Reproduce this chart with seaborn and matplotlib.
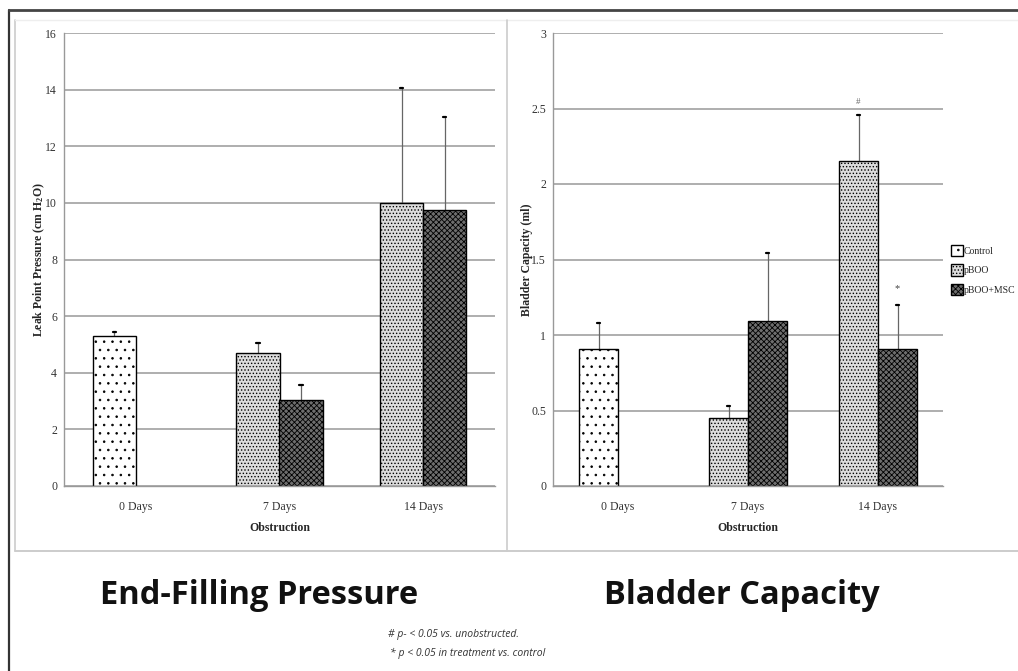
import numpy as np
import pandas as pd
import matplotlib
matplotlib.use("Agg")
import matplotlib.pyplot as plt
import seaborn as sns
from matplotlib.patches import Patch
from matplotlib.lines import Line2D

# data
days = ['0 Days', '7 Days', '14 Days']
groups = ['Control', 'pBOO', 'pBOO+MSC']
bar_day = ['0 Days', '7 Days', '7 Days', '14 Days', '14 Days']
bar_group = ['Control', 'pBOO', 'pBOO+MSC', 'pBOO', 'pBOO+MSC']
pressure_mean = [5.3, 4.7, 3.05, 10.0, 9.75]
pressure_err = [0.15, 0.35, 0.5, 4.05, 3.3]
capacity_mean = [0.91, 0.45, 1.09, 2.15, 0.91]
capacity_err = [0.17, 0.08, 0.45, 0.31, 0.29]
pressure_ticks = [0, 2, 4, 6, 8, 10, 12, 14, 16]
capacity_ticks = [0, 0.5, 1, 1.5, 2, 2.5, 3]
capacity_tick_labels = ['0', '0.5', '1', '1.5', '2', '2.5', '3']

# pattern styles per group
styles = {
    'Control': dict(facecolor='white', hatch='..'),
    'pBOO': dict(facecolor='#dcdcdc', hatch='.....'),
    'pBOO+MSC': dict(facecolor='#6e6e6e', hatch='xxxxxx'),
}
# control and pBOO share the left slot, pBOO+MSC is on the right
slot = {'Control': 'L', 'pBOO': 'L', 'pBOO+MSC': 'R'}

sns.set_style('white')
plt.rcParams['font.family'] = ['Liberation Serif', 'DejaVu Serif']
plt.rcParams['mathtext.default'] = 'regular'
plt.rcParams['hatch.linewidth'] = 0.6


def draw_panel(ax, means, errs, yticks, yticklabels, ylabel, ylim):
    frame = pd.DataFrame({'day': bar_day, 'group': bar_group,
                          'slot': [slot[g] for g in bar_group],
                          'value': means, 'err': errs})
    sns.barplot(data=frame, x='day', y='value', hue='slot', order=days,
                hue_order=['L', 'R'], width=0.6, errorbar=None,
                legend=False, ax=ax)
    lookup = {(r.day, r.slot): r for r in frame.itertuples()}
    for p in ax.patches:
        if p.get_height() == 0 or np.isnan(p.get_height()):
            continue
        xc = p.get_x() + p.get_width() / 2
        di = int(round(xc))
        side = 'L' if xc < di else 'R'
        row = lookup.get((days[di], side))
        if row is None:
            continue
        st = styles[row.group]
        p.set_facecolor(st['facecolor'])
        p.set_hatch(st['hatch'])
        p.set_edgecolor('black')
        p.set_linewidth(1.0)
        p.set_zorder(2)
        ax.errorbar(xc, row.value, yerr=[[0], [row.err]], fmt='none',
                    ecolor='#666666', elinewidth=0.9, capsize=0, zorder=1)
        ax.plot([xc - 0.012, xc + 0.012], [row.value + row.err] * 2,
                color='black', lw=1.6, zorder=3)
    ax.set_ylim(*ylim)
    ax.set_xlim(-0.5, 2.5)
    ax.set_yticks(yticks)
    ax.set_yticklabels(yticklabels, fontsize=8.5, color='#333333')
    ax.tick_params(axis='x', labelsize=8.5, colors='#333333', length=0, pad=11)
    ax.tick_params(axis='y', length=4, width=0.8, color='#999999', pad=1)
    ax.set_xticks(range(3))
    ax.set_xticklabels(days)
    ax.set_xticks([0.5, 1.5, 2.5], minor=True)
    ax.tick_params(axis='x', which='minor', length=4, width=0.8,
                   color='#aaaaaa', direction='out')
    ax.yaxis.grid(True, color='#a8a8a8', lw=1.3)
    ax.set_axisbelow(True)
    for s in ['top', 'right']:
        ax.spines[s].set_visible(False)
    for s in ['left', 'bottom']:
        ax.spines[s].set_color('#999999')
        ax.spines[s].set_linewidth(1.0)
    ax.set_xlabel('Obstruction', fontsize=8.5, fontweight='bold', labelpad=6)
    ax.set_ylabel(ylabel, fontsize=8.5, fontweight='bold', labelpad=-1)


fig = plt.figure(figsize=(10.18, 6.71), dpi=100)
ax1 = fig.add_axes([64 / 1018, 1 - 486 / 671, 431 / 1018, 453 / 671])
ax2 = fig.add_axes([553 / 1018, 1 - 486 / 671, 390 / 1018, 453 / 671])

draw_panel(ax1, pressure_mean, pressure_err, pressure_ticks,
           [str(t) for t in pressure_ticks],
           'Leak Point Pressure (cm H$_2$O)', (0, 16))
draw_panel(ax2, capacity_mean, capacity_err, capacity_ticks,
           capacity_tick_labels, 'Bladder Capacity (ml)', (0, 3))

# significance marks on the capacity panel
ax2.text(2 - 0.15, 2.54, '#', ha='center', va='center', fontsize=6.5, color='#666666')
ax2.text(2 + 0.15, 1.31, '*', ha='center', va='center', fontsize=7.5, color='#444444')

# legend
handles = [Patch(facecolor=styles[g]['facecolor'], hatch=styles[g]['hatch'],
                 edgecolor='black', label=g) for g in groups]
fig.legend(handles=handles, loc='upper left', bbox_to_anchor=(947 / 1018, 1 - 241 / 671),
           frameon=False, fontsize=7, handlelength=1.2, handleheight=1.4,
           handletextpad=0.1, labelspacing=0.85, borderaxespad=0)

# frames around the panels
fig.add_artist(Line2D([9 / 1018, 9 / 1018], [0, 1 - 10 / 671], color='#333333', lw=1.6))
fig.add_artist(Line2D([9 / 1018, 1], [1 - 10 / 671, 1 - 10 / 671], color='#444444', lw=2.0))
fig.add_artist(Line2D([15 / 1018, 15 / 1018], [1 - 551 / 671, 1 - 20 / 671], color='#cccccc', lw=1.2))
fig.add_artist(Line2D([15 / 1018, 1], [1 - 551 / 671, 1 - 551 / 671], color='#cccccc', lw=1.4))
fig.add_artist(Line2D([15 / 1018, 1], [1 - 20 / 671, 1 - 20 / 671], color='#eeeeee', lw=1.0))
fig.add_artist(Line2D([507 / 1018, 507 / 1018], [1 - 551 / 671, 1 - 20 / 671], color='#cccccc', lw=1.2))

# titles and footnotes below
title_font = ['Open Sans', 'DejaVu Sans']
fig.text(259 / 1018, 1 - 595 / 671, 'End-Filling Pressure', ha='center', va='center',
         fontsize=23.5, fontweight='bold', family=title_font, color='#111111')
fig.text(742 / 1018, 1 - 595 / 671, 'Bladder Capacity', ha='center', va='center',
         fontsize=23.5, fontweight='bold', family=title_font, color='#111111')
fig.text(388 / 1018, 1 - 634 / 671, '# p- < 0.05 vs. unobstructed.', ha='left', va='center',
         fontsize=7.5, style='italic', family=title_font, color='#333333')
fig.text(390 / 1018, 1 - 653 / 671, '* p < 0.05 in treatment vs. control', ha='left', va='center',
         fontsize=7.5, style='italic', family=title_font, color='#333333')

fig.savefig('out.png', dpi=100)
